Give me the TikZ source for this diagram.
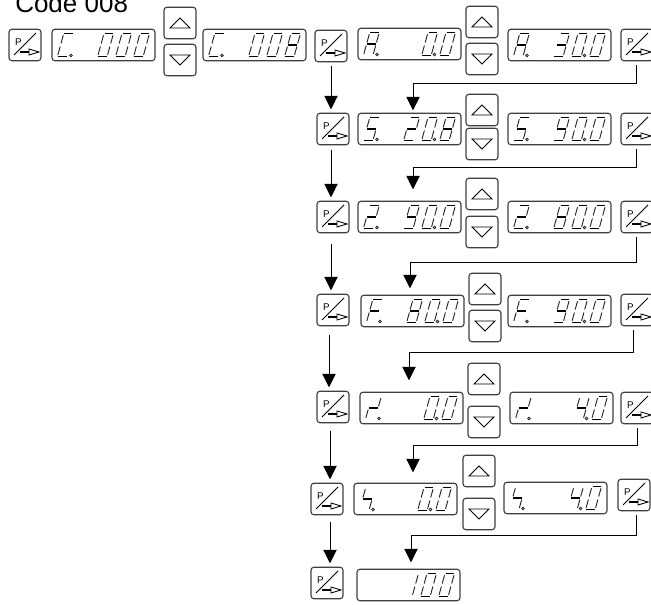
\documentclass[tikz,border=0pt]{standalone}
\usepackage{fontspec}
\setmainfont{Liberation Sans}
\usetikzlibrary{calc,arrows.meta}
\definecolor{edge}{HTML}{404040}
\tikzset{
  unit/.style={draw=edge,line width=0.85pt,rounded corners=2.2pt,inner sep=0pt,outer sep=0pt},
  conn/.style={draw=black,line width=0.7pt,-{Triangle[length=10pt,width=10pt]}},
  hseg/.style={line width=1.4pt,line cap=butt,black},
  vseg/.style={line width=0.7pt,line cap=butt,black!85},
  icon/.style={line width=0.65pt,black,line join=miter},
  decdot/.style={draw=black!85,fill=gray!50,line width=0.5pt},
  title/.style={font=\fontsize{19.5pt}{22pt}\selectfont,anchor=base west,inner sep=0pt}
}
% seven segment parts, in cell coordinates
\def\sega{\draw[hseg] (7.0,0.5)--(15.8,0.5);}
\def\segb{\draw[vseg] (15.5,2.2)--(13.2,10.5);}
\def\segc{\draw[vseg] (12.4,13.5)--(10.1,21.8);}
\def\segd{\draw[hseg] (0.2,23.5)--(9.2,23.5);}
\def\sege{\draw[vseg] (2.9,13.5)--(0.6,21.8);}
\def\segf{\draw[vseg] (6.0,2.2)--(3.7,10.5);}
\def\segg{\draw[hseg] (3.9,12)--(12.2,12);}
\def\Gz{a,b,c,d,e,f}
\def\Gi{b,c}
\def\Gii{a,b,g,e,d}
\def\Giii{a,b,g,c,d}
\def\Giv{f,g,b,c}
\def\Gviii{a,b,c,d,e,f,g}
\def\Gix{a,b,c,d,f,g}
\def\GC{a,f,e,d}
\def\GA{a,b,c,e,f,g}
\def\GS{a,f,g,c,d}
\def\GF{a,f,e,g}
\def\Gr{b,g,e}
\def\Gh{f,g,c}
\def\Gn{x}
\def\cellglyph#1#2#3{\begin{scope}[shift={(#1,#2)}]\foreach \s in #3 {\csname seg\s\endcsname}\end{scope}}
\def\dotat#1#2{\draw[decdot] (#1,#2) circle[radius=1.3];}
% name, left, top, letter, three digits, letter dot, decimal dot
\newcommand\readout[9]{%
  \node[unit,minimum width=77.25pt,minimum height=23.6pt] (#1) at (#2+51.5,#3+16) {};
  \cellglyph{#2+5.3}{#3+4}{#4}
  \cellglyph{#2+45.5}{#3+4}{#5}
  \cellglyph{#2+63.5}{#3+4}{#6}
  \cellglyph{#2+81.5}{#3+4}{#7}
  \ifnum#8=1 \dotat{#2+19}{#3+26.5}\fi
  \ifnum#9=1 \dotat{#2+76.5}{#3+26.5}\fi
}
\newcommand\pbtn[3]{%
  \node[unit,minimum width=24pt,minimum height=23.6pt] (#1) at (#2+16,#3+16) {};
  \begin{scope}[shift={(#2,#3)}]
    \node[font=\fontsize{7.3pt}{8pt}\selectfont,inner sep=0pt] (#1-p) at (9.3,13.5) {P};
    \draw[icon] (5,26)--(27,4);
    \draw[line width=1.3pt,black] (11,23)--(20,23);
    \draw[icon] (20,20)--(20,26)--(30,23)--cycle;
  \end{scope}
}
\newcommand\upbtn[3]{%
  \node[unit,minimum width=24pt,minimum height=23.6pt] (#1) at (#2+16,#3+16) {};
  \begin{scope}[shift={(#2,#3)}]\draw[icon] (6,21)--(26,21)--(16,11)--cycle;\end{scope}
}
\newcommand\dnbtn[3]{%
  \node[unit,minimum width=24pt,minimum height=23.6pt] (#1) at (#2+16,#3+16) {};
  \begin{scope}[shift={(#2,#3)}]\draw[icon] (6,11)--(26,11)--(16,21)--cycle;\end{scope}
}
% vertical arrow: from node, dx from, start gap, to node, dx to
\newcommand\varrow[5]{%
  \coordinate (s) at ($(#1.south)+(#2,#3)$);
  \coordinate (e) at ($(#4.north)+(#5,-4)$);
  \draw[conn] (s) -- (s |- e);
}
% elbow: from node, dx, horizontal y, to node, dx, gap
\newcommand\elbow[6]{%
  \coordinate (s) at ($(#1.south)+(#2,4.5)$);
  \coordinate (e) at ($(#4.north)+(#5,-#6)$);
  \coordinate (h) at (0,#3);
  \draw[conn] (s) -- (s |- h) -- (e |- h) -- (e);
}
\begin{document}
\begin{tikzpicture}[x=0.75pt,y=-0.75pt]
\useasboundingbox (0,0) rectangle (651,605);
\fill[white] (0,0) rectangle (651,605);
\node[title] (code) at (15,13) {Code 008};
% row 1
\pbtn{p0}{9}{29}
\readout{d0}{52}{29}{\GC}{\Gz}{\Gz}{\Gz}{1}{0}
\upbtn{u0}{164}{7}
\dnbtn{n0}{164}{44}
\readout{d0b}{203}{29}{\GC}{\Gz}{\Gz}{\Gviii}{1}{0}
\pbtn{p1}{315}{30}
\readout{d1}{358}{28}{\GA}{\Gn}{\Gz}{\Gz}{1}{1}
\upbtn{u1}{466}{6}
\dnbtn{n1}{466}{43}
\readout{d1b}{508}{29}{\GA}{\Giii}{\Gz}{\Gz}{1}{1}
\pbtn{r1}{621}{29}
% row 2
\pbtn{p2}{317}{113}
\readout{d2}{358}{113}{\GS}{\Gii}{\Gz}{\Gviii}{1}{1}
\upbtn{u2}{466}{94}
\dnbtn{n2}{466}{128}
\readout{d2b}{508}{113}{\GS}{\Gix}{\Gz}{\Gz}{1}{1}
\pbtn{r2}{621}{113}
% row 3
\pbtn{p3}{317}{201}
\readout{d3}{358}{201}{\Gii}{\Gix}{\Gz}{\Gz}{1}{1}
\upbtn{u3}{466}{178}
\dnbtn{n3}{466}{216}
\readout{d3b}{508}{201}{\Gii}{\Gviii}{\Gz}{\Gz}{1}{1}
\pbtn{r3}{621}{201}
% row 4
\pbtn{p4}{317}{294}
\readout{d4}{361}{295}{\GF}{\Gviii}{\Gz}{\Gz}{1}{1}
\upbtn{u4}{469}{273}
\dnbtn{n4}{469}{310}
\readout{d4b}{508}{295}{\GF}{\Gix}{\Gz}{\Gz}{1}{1}
\pbtn{r4}{621}{294}
% row 5
\pbtn{p5}{317}{391}
\readout{d5}{360}{392}{\Gr}{\Gn}{\Gz}{\Gz}{1}{1}
\upbtn{u5}{468}{363}
\dnbtn{n5}{468}{406}
\readout{d5b}{510}{392}{\Gr}{\Gn}{\Giv}{\Gz}{1}{1}
\pbtn{r5}{621}{392}
% row 6
\pbtn{p6}{311}{483}
\readout{d6}{354}{483}{\Gh}{\Gn}{\Gz}{\Gz}{1}{1}
\upbtn{u6}{463}{455}
\dnbtn{n6}{463}{498}
\readout{d6b}{504}{482}{\Gh}{\Gn}{\Giv}{\Gz}{1}{1}
\pbtn{r6}{618}{479}
% row 7
\pbtn{p7}{311}{567}
\readout{d7}{357}{569}{\Gn}{\Gi}{\Gz}{\Gz}{0}{0}
% connectors
\varrow{p1}{0}{4.5}{p2}{-2}
\varrow{p2}{-2}{5}{p3}{-2}
\varrow{p3}{-2}{11}{p4}{-4}
\varrow{p4}{-4}{9}{p5}{-3}
\varrow{p5}{-3}{8}{p6}{3}
\varrow{p6}{3}{7}{p7}{3}
\elbow{r1}{-1}{83}{d2}{3.5}{3}
\elbow{r2}{-1}{167}{d3}{3.5}{12}
\elbow{r3}{-1}{262}{d4}{-2.5}{7}
\elbow{r4}{-4}{352}{d5}{-2.5}{12}
\elbow{r5}{0}{445}{d6}{7.5}{11}
\elbow{r6}{2}{535}{d7}{2.5}{7}
\end{tikzpicture}
\end{document}
